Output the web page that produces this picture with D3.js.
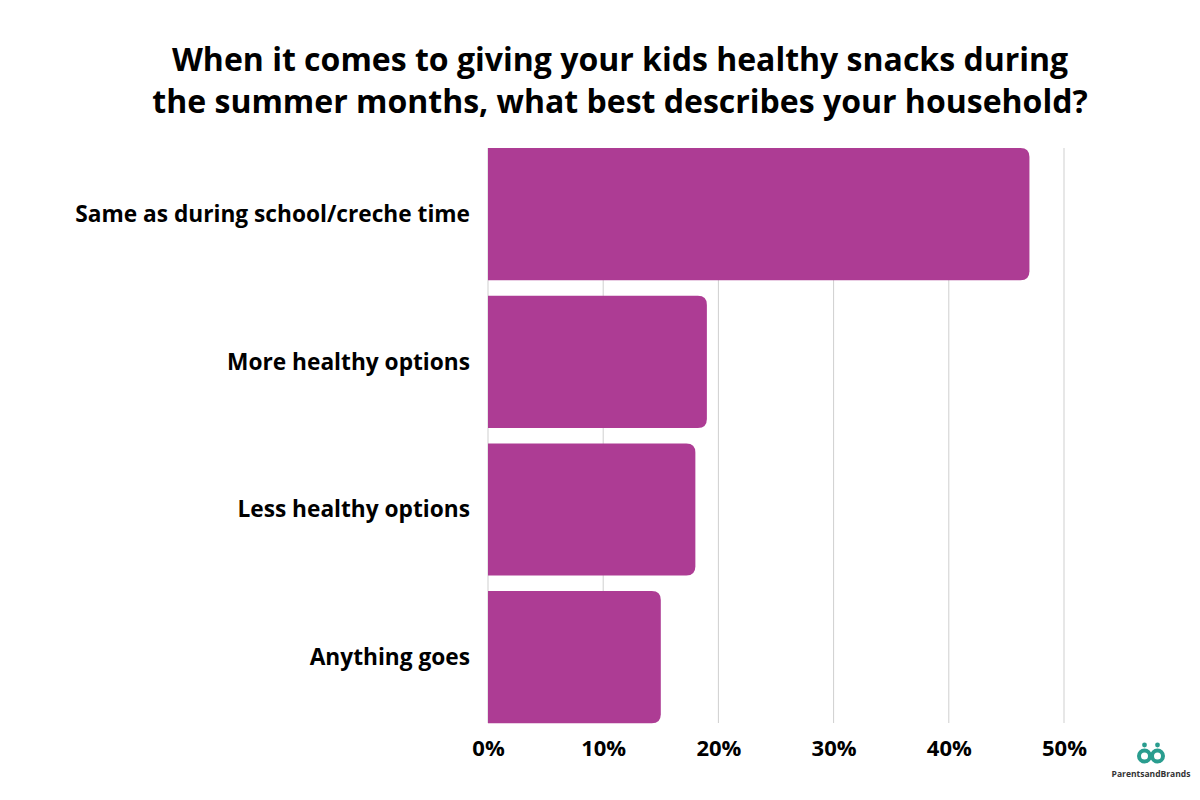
<!DOCTYPE html>
<html><head><meta charset="utf-8">
<script src="https://cdn.jsdelivr.net/npm/d3@7"></script>
<style>body{margin:0;background:#fff}svg{display:block}text{font-family:"Open Sans",sans-serif}</style>
</head><body>
<script>
const categories = ["Same as during school/creche time","More healthy options","Less healthy options","Anything goes"];
const values = [47, 19, 18, 15];
const tickValues = [0, 10, 20, 30, 40, 50];
const titleLines = ["When it comes to giving your kids healthy snacks during","the summer months, what best describes your household?"];

const W = 1200, H = 800;
const svg = d3.select("body").append("svg").attr("width", W).attr("height", H);
svg.append("rect").attr("width", W).attr("height", H).attr("fill", "#fff");

const x = d3.scaleLinear().domain([0, 50]).range([488, 1064]);
const y = d3.scaleBand().domain(categories).range([140.3, 731]).paddingInner(0.105).paddingOuter(0.0525);

// title
svg.append("g").selectAll("text").data(titleLines).join("text")
  .attr("x", 620).attr("y", (d, i) => 71 + i * 42)
  .attr("text-anchor", "middle").attr("font-size", 32).attr("font-weight", 700).attr("fill", "#000")
  .text(d => d);

// grid
svg.append("g").selectAll("line").data(tickValues).join("line")
  .attr("x1", d => x(d)).attr("x2", d => x(d))
  .attr("y1", 148).attr("y2", 723)
  .attr("stroke", "#cfcfcf").attr("stroke-width", 1);

// bars with right rounded corners
const r = 9;
function barPath(x0, x1, y0, h) {
  const rr = Math.min(r, (x1 - x0) / 2);
  return `M${x0},${y0}H${x1 - rr}Q${x1},${y0} ${x1},${y0 + rr}V${y0 + h - rr}Q${x1},${y0 + h} ${x1 - rr},${y0 + h}H${x0}Z`;
}
svg.append("g").selectAll("path").data(categories).join("path")
  .attr("d", (d, i) => barPath(x(0), x(values[i]), y(d), y.bandwidth()))
  .attr("fill", "#ad3c94");

// category labels
svg.append("g").selectAll("text").data(categories).join("text")
  .attr("x", 470).attr("y", d => y(d) + y.bandwidth() / 2)
  .attr("dy", "0.35em").attr("text-anchor", "end")
  .attr("font-size", 22.7).attr("font-weight", 700).attr("fill", "#000")
  .text(d => d);

// x axis tick labels
const xAxis = d3.axisBottom(x).tickValues(tickValues).tickFormat(d => d + "%").tickSize(0).tickPadding(0);
const ax = svg.append("g").attr("transform", "translate(0,740)").call(xAxis);
ax.select(".domain").remove();
ax.selectAll("text").attr("font-size", 22).attr("font-weight", 700).attr("fill", "#000")
  .attr("font-family", "'Open Sans', sans-serif").attr("dy", "0.71em");

// logo
const logo = svg.append("g").attr("transform", "translate(1151,762)");
const teal = "#2a9d8f";
logo.append("circle").attr("cx", -6.5).attr("cy", -6).attr("r", 5.5).attr("fill", "none").attr("stroke", teal).attr("stroke-width", 4);
logo.append("circle").attr("cx", 6.5).attr("cy", -6).attr("r", 5.5).attr("fill", "none").attr("stroke", teal).attr("stroke-width", 4);
logo.append("circle").attr("cx", -6.5).attr("cy", -17).attr("r", 2.4).attr("fill", teal);
logo.append("circle").attr("cx", 6.5).attr("cy", -17).attr("r", 2.4).attr("fill", teal);
logo.append("text").attr("x", 0).attr("y", 15).attr("text-anchor", "middle")
  .attr("font-size", 8.5).attr("font-weight", 700).attr("fill", "#333").text("ParentsandBrands");
</script>
</body></html>
